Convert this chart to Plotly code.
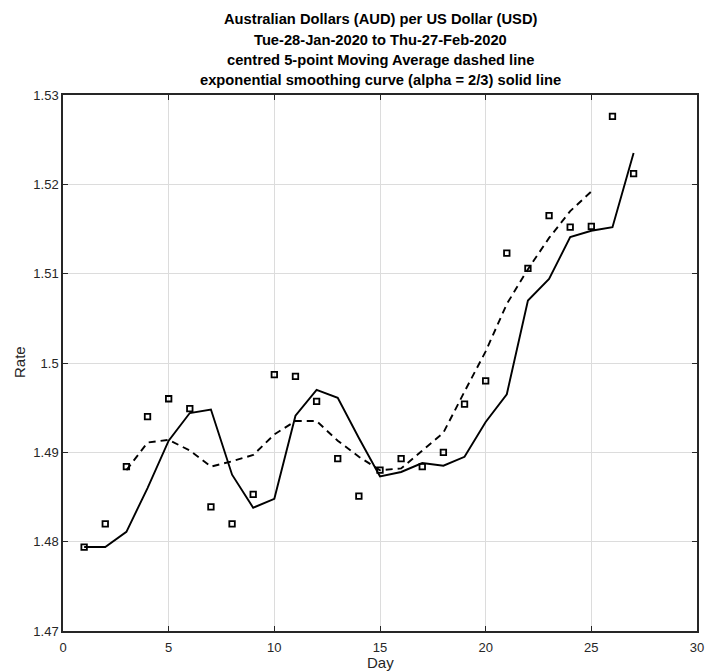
import plotly.graph_objects as go

# ---- data ----
days = list(range(1, 28))
rate = [1.4794, 1.4820, 1.4884, 1.4940, 1.4960, 1.4949, 1.4839, 1.4820, 1.4853,
        1.4987, 1.4985, 1.4957, 1.4893, 1.4851, 1.4880, 1.4893, 1.4884, 1.4900,
        1.4954, 1.4980, 1.5123, 1.5106, 1.5165, 1.5152, 1.5153, 1.5276, 1.5212]

ma_days = list(range(3, 26))
ma_vals = [1.4880, 1.4911, 1.4914, 1.4902, 1.4884, 1.4890, 1.4897, 1.4920,
           1.4935, 1.4935, 1.4913, 1.4895, 1.4880, 1.4882, 1.4902, 1.4922,
           1.4968, 1.5013, 1.5066, 1.5105, 1.5140, 1.5170, 1.5192]

es_days = list(range(1, 28))
es_vals = [1.4794, 1.4794, 1.4811, 1.4860, 1.4913, 1.4944, 1.4948, 1.4875,
           1.4838, 1.4848, 1.4941, 1.4970, 1.4961, 1.4916, 1.4873, 1.4878,
           1.4888, 1.4885, 1.4895, 1.4934, 1.4965, 1.5070, 1.5094, 1.5141,
           1.5148, 1.5152, 1.5235]

x_ticks = [0, 5, 10, 15, 20, 25, 30]
y_ticks = [1.47, 1.48, 1.49, 1.50, 1.51, 1.52, 1.53]
y_tick_text = ["1.47", "1.48", "1.49", "1.5", "1.51", "1.52", "1.53"]

title_lines = [
    "Australian Dollars (AUD) per US Dollar (USD)",
    "Tue-28-Jan-2020 to Thu-27-Feb-2020",
    "centred 5-point Moving Average dashed line",
    "exponential smoothing curve (alpha = 2/3) solid line",
]

FONT = "Liberation Sans, Arial, sans-serif"
W, H = 712, 671
L, R, T, B = 63, 8, 95, 40
ph = H - T - B

fig = go.Figure()
fig.add_trace(go.Scatter(x=days, y=rate, mode="markers",
                         marker=dict(symbol="square-open", size=5.5, color="black",
                                     line=dict(width=1.8, color="black")),
                         showlegend=False))
fig.add_trace(go.Scatter(x=ma_days, y=ma_vals, mode="lines",
                         line=dict(color="black", width=1.9, dash="7px,5px"),
                         showlegend=False))
fig.add_trace(go.Scatter(x=es_days, y=es_vals, mode="lines",
                         line=dict(color="black", width=1.9),
                         showlegend=False))

axis_common = dict(showgrid=True, gridcolor="#dcdcdc", gridwidth=1,
                   showline=True, linecolor="#262626", linewidth=1.5,
                   mirror="ticks", ticks="inside", ticklen=5, tickwidth=1.2,
                   tickcolor="#262626", zeroline=False,
                   tickfont=dict(family=FONT, size=13, color="#262626"))

fig.update_xaxes(range=[0, 30], tickvals=x_ticks,
                 ticktext=[str(v) for v in x_ticks], ticklabelstandoff=4,
                 **axis_common)
fig.update_yaxes(range=[1.47, 1.53], tickvals=y_ticks, ticktext=y_tick_text,
                 **axis_common)

annotations = []
title_y_px = [19, 40.5, 60.5, 80.5]
for txt, ypx in zip(title_lines, title_y_px):
    annotations.append(dict(text="<b>" + txt + "</b>", xref="paper", yref="paper",
                            x=0.5, y=(H - B - ypx) / ph, xanchor="center",
                            yanchor="middle", showarrow=False,
                            font=dict(family=FONT, size=14.7, color="black")))
annotations.append(dict(text="Day", xref="paper", yref="paper", x=0.5,
                        y=(H - B - 662) / ph, xanchor="center", yanchor="middle",
                        showarrow=False,
                        font=dict(family=FONT, size=15, color="#262626")))
annotations.append(dict(text="Rate", xref="paper", yref="paper",
                        x=(18.5 - L) / (W - L - R), y=(H - B - 362) / ph,
                        xanchor="center", yanchor="middle", textangle=-90,
                        showarrow=False,
                        font=dict(family=FONT, size=15, color="#262626")))

fig.update_layout(width=W, height=H, margin=dict(l=L, r=R, t=T, b=B),
                  paper_bgcolor="white", plot_bgcolor="white",
                  annotations=annotations, showlegend=False)

fig.write_html("out.html")
